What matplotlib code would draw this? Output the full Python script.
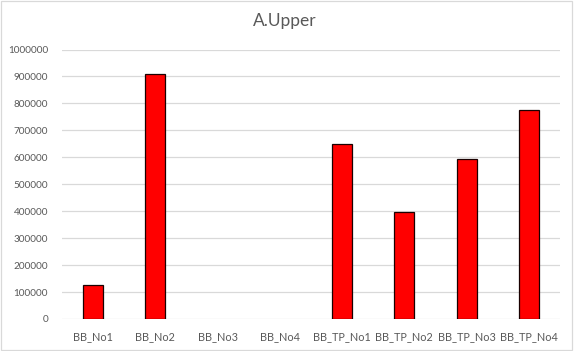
import matplotlib
matplotlib.use('Agg')
import matplotlib.pyplot as plt
from matplotlib.patches import Rectangle

categories = ['BB_No1', 'BB_No2', 'BB_No3', 'BB_No4',
              'BB_TP_No1', 'BB_TP_No2', 'BB_TP_No3', 'BB_TP_No4']
values = [126000, 908000, 0, 0, 648000, 397000, 593000, 775000]
yticks = list(range(0, 1000001, 100000))

plt.rcParams['font.family'] = ['Lato', 'DejaVu Sans']

fig = plt.figure(figsize=(5.77, 3.51), dpi=100)
ax = fig.add_axes([62 / 577, 32 / 351, 498 / 577, 269.5 / 351])

x = list(range(len(categories)))
# empty bars get no outline (Excel draws nothing for 0)
lw = [0.9 if v > 0 else 0 for v in values]
ax.bar(x, values, width=0.32, color='#ff0000', edgecolor='#1a0000', linewidth=lw, zorder=3)

ax.set_xlim(-0.5, len(categories) - 0.5)
ax.set_ylim(0, 1000000)
ax.set_yticks(yticks)
ax.set_yticklabels([str(v) for v in yticks])
ax.set_xticks(x)
ax.set_xticklabels(categories)
ax.tick_params(axis='both', length=0, colors='#595959')
ax.tick_params(axis='y', pad=10, labelsize=7.2)
ax.tick_params(axis='x', pad=9, labelsize=7.8)
ax.grid(axis='y', color='#d9d9d9', linewidth=0.9, zorder=0)
for s in ax.spines.values():
    s.set_visible(False)

fig.text(285 / 577, 1 - 21 / 351, 'A.Upper', ha='center', va='center',
         fontsize=12.5, color='#595959')

# chart frame
fig.patches.append(Rectangle((0.5 / 577, 1.5 / 351), 571.5 / 577, 348.5 / 351,
                             transform=fig.transFigure, fill=False,
                             edgecolor='#d9d9d9', linewidth=0.9))

fig.savefig('out.png', dpi=100)
